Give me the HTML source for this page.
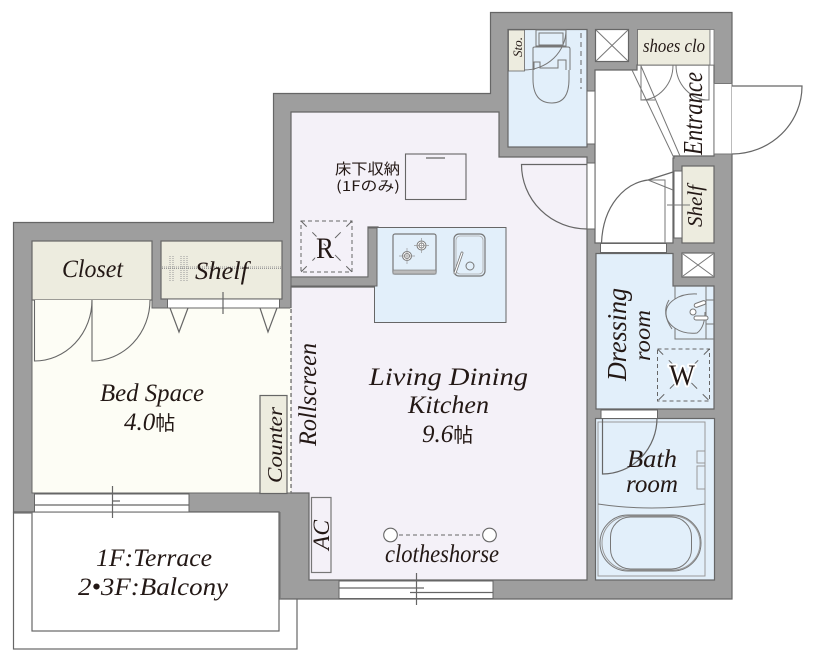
<!DOCTYPE html>
<html><head><meta charset="utf-8"><style>
html,body{margin:0;padding:0;background:#fff}
svg{display:block}
text{font-family:"Liberation Serif","Noto Serif CJK JP",serif;fill:#231815;font-style:italic}
.j{font-style:normal;font-family:"Noto Sans CJK JP",sans-serif;font-size:15px}
.l{fill:none;stroke:#666;stroke-width:1.2}
.t{fill:none;stroke:#777;stroke-width:1}
.w{fill:#fff;stroke:#666;stroke-width:1}
.b{fill:#edecdf;stroke:#666;stroke-width:1.2}
.d{fill:none;stroke:#666;stroke-width:1.2;stroke-dasharray:4 3}
</style></head><body>
<svg width="816" height="664" viewBox="0 0 816 664" xmlns="http://www.w3.org/2000/svg">
<rect width="816" height="664" fill="#fff"/>
<!-- balcony -->
<rect x="13.500" y="512.500" width="283.500" height="136.500" fill="#fff" stroke="#666" stroke-width="1.200"/>
<!-- wall -->
<path d="M13.500 222.500H273.500V93.500H490.500V12.500H732V599H279V512H13.500Z" fill="#9e9e9e" stroke="#666" stroke-width="1.200"/>
<rect x="32" y="512" width="247" height="119" fill="#fff" stroke="#666" stroke-width="1.200"/>
<path d="M14 513H32M280 512V598" class="l" style="stroke:#777"/>
<!-- living -->
<path d="M291 112H499V157H587V580H309V493H291V287H378V227H368V277H291Z" fill="#f4f1f8" stroke="#666" stroke-width="1.200"/>
<!-- bed -->
<path d="M32 300H152V308H291V493H32Z" fill="#fdfdf5" stroke="#666" stroke-width="1"/>
<path d="M291 308V493" stroke="#fdfdf5" stroke-width="1.200"/>
<path d="M291 309V493" class="d"/>
<rect x="32" y="241" width="120" height="59" class="b"/>
<rect x="161" y="241" width="121" height="58" class="b"/>
<path d="M162 267H281M162 268.500H281M170 256V281M173 256V281M181 256V281M184 256V281M187 256V281" stroke="#999" stroke-width="1" stroke-dasharray="1 1" fill="none"/>
<!-- closet doors -->
<path d="M34.500 300V361A57.500 61 0 0 0 92 300" fill="#fdfdf5" stroke="#666" stroke-width="1.100"/>
<path d="M92 300V361A58 61 0 0 0 150 300" fill="#fdfdf5" stroke="#666" stroke-width="1.100"/>
<rect x="167.500" y="299" width="112" height="9" class="w"/>
<path d="M223 292V314" class="l"/>
<path d="M170 308L179 332L188 308M260 308L268 332L277 308" class="l"/>
<!-- counter -->
<rect x="260" y="395.500" width="27" height="98" class="b"/>
<!-- bed window -->
<rect x="34.500" y="494" width="154.500" height="18" class="w"/>
<path d="M34.500 505H189M106 505H113M113 501H120" class="l"/>
<path d="M112.500 486V518" class="l"/>
<!-- living window -->
<rect x="339" y="581" width="154" height="17.500" class="w"/>
<path d="M339 588H424M410 592.500H493M416.500 573V605" class="l"/>
<!-- AC -->
<rect x="311.500" y="497.500" width="19.500" height="75" fill="#f4f1f8" stroke="#777" stroke-width="1.200"/>
<!-- clotheshorse -->
<circle cx="390.500" cy="535" r="6.800" fill="#fff" stroke="#666" stroke-width="1.100"/>
<circle cx="489.500" cy="535" r="6.800" fill="#fff" stroke="#666" stroke-width="1.100"/>
<path d="M399 535H481" class="d" style="stroke-width:1"/>
<!-- kitchen -->
<rect x="374.500" y="227.500" width="131.500" height="95" fill="#e2effa" stroke="#666" stroke-width="1"/>
<path d="M291 277H368V228H377V286H291Z" fill="#9e9e9e" stroke="#666" stroke-width="1"/>
<rect x="393" y="234" width="43" height="40" rx="2" fill="none" stroke="#777" stroke-width="1.200"/>
<rect x="393" y="270" width="43" height="4" fill="#bbb" stroke="#777" stroke-width=".6"/>
<g fill="#fff" stroke="#777" stroke-width="1">
<circle cx="407" cy="256" r="4.500"/><circle cx="421.500" cy="245.500" r="4.500"/>
<circle cx="407" cy="256" r="2.500"/><circle cx="421.500" cy="245.500" r="2.500"/>
</g>
<path d="M407 248V264M399 256H415M421.500 238V253M414 245.500H429" stroke="#999" stroke-width=".7"/>
<rect x="454" y="234" width="31" height="42" rx="5" fill="none" stroke="#777" stroke-width="1.200"/>
<rect x="456" y="236" width="27" height="38" rx="4" fill="none" stroke="#aaa" stroke-width=".8"/>
<circle cx="470" cy="266" r="4" fill="none" stroke="#777"/>
<path d="M455 273L462 253" stroke="#777" stroke-width="2.800" stroke-linecap="round"/>
<path d="M455 273L462 253" stroke="#fff" stroke-width="1.200" stroke-linecap="round"/>
<!-- under floor storage -->
<rect x="405.500" y="154" width="60.500" height="45.500" fill="none" stroke="#666" stroke-width="1.100"/>
<path d="M426 158H445" class="l"/>
<text class="j" x="335" y="174" textLength="65" lengthAdjust="spacingAndGlyphs">床下収納</text>
<text class="j" x="336" y="191" textLength="64" lengthAdjust="spacingAndGlyphs" style="font-size:14px">(1Fのみ)</text>
<!-- R -->
<rect x="301" y="221" width="51" height="51" class="d" style="stroke-width:1"/>
<path d="M301 221L352 272M352 221L301 272" class="d" style="stroke-dasharray:8 8;stroke-width:1"/>
<text x="316" y="258" font-size="30" textLength="18" lengthAdjust="spacingAndGlyphs" style="font-style:normal;stroke:#f4f1f8;stroke-width:4;paint-order:stroke;stroke-linejoin:round">R</text>
<!-- toilet -->
<rect x="508" y="29.500" width="79" height="117.500" fill="#e2effa" stroke="#666" stroke-width="1.200"/>
<rect x="508.500" y="30" width="16" height="41" class="b" style="stroke-width:.8"/>
<rect x="536" y="30" width="30" height="16" class="t"/>
<rect x="539" y="33" width="24" height="12" class="t"/>
<path d="M533 70V48Q533 47 535 47H568Q570 47 570 49V70M533 70V79Q533 103 552 103Q569 103 569 79V70M534 70V62H540V68H558V60H566V70" class="t"/>
<path d="M566 30A42 40 0 0 1 524 70" class="t"/>
<path d="M581 33V89" class="d" style="stroke-dasharray:5 4;stroke-width:1"/>
<!-- corridor & entrance -->
<path d="M595 70H637V65H714V83H714V156H674V158H673V243H595Z" fill="#fff" stroke="#666" stroke-width="1.200"/>
<rect x="595.500" y="29.500" width="33" height="32" class="w" style="stroke-width:1.200"/>
<path d="M596 30L628 61M628 30L596 61" class="t"/>
<rect x="637.500" y="29.500" width="72.500" height="35.500" class="b" style="stroke-width:.8"/>
<rect x="710" y="29.500" width="4" height="35.500" fill="#fff" stroke="#777" stroke-width=".8"/>
<path d="M632 70L674 158M641 66L680 156" class="t"/>
<path d="M641 65V100A32 35 0 0 0 673 65M709 65V100A33 35 0 0 1 676 65M641 100H655M699 100H709" class="t"/>
<rect x="714" y="83.500" width="18" height="70.500" fill="#fff" stroke="#777" stroke-width="1"/>
<path d="M732 86H802A70 68 0 0 1 732 154" class="l" style="fill:#fff"/>
<rect x="587" y="91" width="8" height="53" class="w"/>
<rect x="587" y="163" width="8" height="66" class="w"/>
<!-- living door -->
<path d="M587 164.500H521.500A65.500 64.500 0 0 0 587 229" class="l"/>
<!-- shelf -->
<rect x="682" y="166" width="32" height="77" class="b" style="stroke-width:1.200"/>
<rect x="674" y="171" width="8" height="67" class="w"/>
<path d="M601.500 243C603 205 625 183 648 180L673 172" class="l"/>
<path d="M648 180H665V243M648 180L673 190M667 205H690" class="t"/>
<rect x="600.500" y="243.500" width="66" height="9" class="w"/>
<!-- dressing -->
<path d="M596 253.500H673V286H714V409H596Z" fill="#e2effa" stroke="#666" stroke-width="1.200"/>
<rect x="682" y="253" width="32" height="24" class="w" style="stroke-width:1.200"/>
<path d="M683 254L713 276M713 254L683 276" class="t"/>
<path d="M675 286V339H714M706 286V339M706 300H714M706 324H714" class="t"/>
<path d="M697 294C678 293 666 303 666 313C666 325 680 335 697 333C703 329 705 320 705 312" class="t" style="fill:#e2effa"/>
<path d="M669 300Q661 313 672 329" class="t"/>
<circle cx="693" cy="312" r="3" fill="#fff" stroke="#777"/>
<rect x="694" y="316" width="14" height="4" rx="2" fill="#fff" stroke="#777"/>
<rect x="694" y="302" width="12" height="4" rx="2" fill="#fff" stroke="#777" transform="rotate(-20 700 304)"/>
<rect x="657.500" y="349" width="52" height="52" class="d" style="stroke-width:1"/>
<path d="M657.500 349L709.500 401M709.500 349L657.500 401" class="d" style="stroke-dasharray:8 8;stroke-width:1"/>
<text x="669" y="385" font-size="30" textLength="26" lengthAdjust="spacingAndGlyphs" style="font-style:normal;stroke:#fff;stroke-width:4;paint-order:stroke;stroke-linejoin:round">W</text>
<!-- bath -->
<rect x="595.500" y="418.500" width="119" height="161.500" fill="#e2effa" stroke="#666" stroke-width="1.200"/>
<rect x="598" y="422" width="107" height="154" class="t" style="stroke:#999"/>
<path d="M598 504Q652 512 705 504" class="t"/>
<rect x="697" y="451" width="8" height="12" class="t" style="stroke:#999"/>
<rect x="697" y="466" width="8" height="23" class="t" style="stroke:#999"/>
<rect x="600" y="515" width="101" height="56" rx="28" class="t"/>
<rect x="602" y="516" width="98" height="54" rx="27" class="t" style="stroke:#999"/>
<rect x="610.500" y="517" width="81" height="52" rx="20" class="t"/>
<rect x="601" y="410" width="56.500" height="8.500" class="w"/>
<path d="M602.500 418V474A54.500 56 0 0 0 657 418" class="l"/>
<!-- labels horizontal -->
<text x="62" y="277" font-size="25" textLength="61" lengthAdjust="spacingAndGlyphs">Closet</text>
<text x="195" y="279" font-size="25" textLength="53" lengthAdjust="spacingAndGlyphs">Shelf</text>
<text x="100" y="401" font-size="25" textLength="104" lengthAdjust="spacingAndGlyphs">Bed Space</text>
<text x="124" y="430" font-size="25">4.0<tspan style="font-style:normal;font-family:'Noto Sans CJK JP',sans-serif;font-size:20px">帖</tspan></text>
<text x="369" y="385" font-size="25" textLength="159" lengthAdjust="spacingAndGlyphs">Living Dining</text>
<text x="408" y="413" font-size="25" textLength="81" lengthAdjust="spacingAndGlyphs">Kitchen</text>
<text x="422" y="442" font-size="25">9.6<tspan style="font-style:normal;font-family:'Noto Sans CJK JP',sans-serif;font-size:20px">帖</tspan></text>
<text x="96" y="566" font-size="25" textLength="116" lengthAdjust="spacingAndGlyphs">1F:Terrace</text>
<text x="78" y="595" font-size="25" textLength="150" lengthAdjust="spacingAndGlyphs">2•3F:Balcony</text>
<text x="385" y="562" font-size="25" textLength="114" lengthAdjust="spacingAndGlyphs">clotheshorse</text>
<text x="643" y="52" font-size="19" textLength="62" lengthAdjust="spacingAndGlyphs">shoes clo</text>
<text x="627" y="467" font-size="25" textLength="50" lengthAdjust="spacingAndGlyphs">Bath</text>
<text x="626" y="492" font-size="25" textLength="52" lengthAdjust="spacingAndGlyphs">room</text>
<!-- labels vertical -->
<text transform="translate(702 155) rotate(-90)" font-size="27" textLength="83" lengthAdjust="spacingAndGlyphs">Entrance</text>
<text transform="translate(702 227) rotate(-90)" font-size="21" textLength="42" lengthAdjust="spacingAndGlyphs">Shelf</text>
<text transform="translate(522 57) rotate(-90)" font-size="13" textLength="20" lengthAdjust="spacingAndGlyphs">Sto.</text>
<text transform="translate(626 381) rotate(-90)" font-size="27" textLength="93" lengthAdjust="spacingAndGlyphs">Dressing</text>
<text transform="translate(650 361) rotate(-90)" font-size="23" textLength="51" lengthAdjust="spacingAndGlyphs">room</text>
<text transform="translate(316 446) rotate(-90)" font-size="25" textLength="103" lengthAdjust="spacingAndGlyphs">Rollscreen</text>
<text transform="translate(282 483) rotate(-90)" font-size="21" textLength="76" lengthAdjust="spacingAndGlyphs">Counter</text>
<text transform="translate(329 550) rotate(-90)" font-size="23" textLength="30" lengthAdjust="spacingAndGlyphs">AC</text>
</svg>
</body></html>
